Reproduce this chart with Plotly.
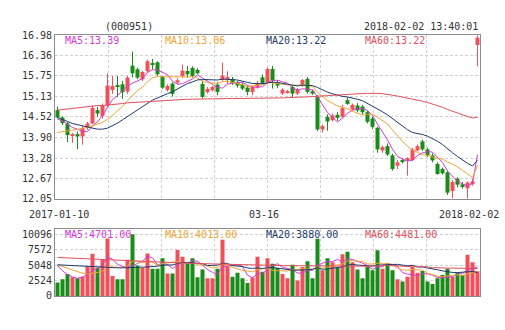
import pandas as pd
import plotly.graph_objects as go

# ---- daily bars, 000951 ----
opens = [14.72, 14.50, 14.32, 13.96, 14.00, 13.93, 14.20, 14.32, 14.72, 14.55,
         14.87, 15.33, 15.45, 15.50, 15.28, 16.06, 15.95, 15.65, 15.90, 16.11,
         16.16, 15.73, 15.33, 15.52, 15.55, 15.75, 15.90, 15.99, 15.93, 15.51,
         15.26, 15.32, 15.49, 15.63, 15.66, 15.66, 15.56, 15.49, 15.40, 15.27,
         15.40, 15.71, 15.56, 15.96, 15.56, 15.22, 15.26, 15.42, 15.22, 15.46,
         15.66, 15.29, 15.12, 14.14, 14.52, 14.42, 14.58, 14.52, 15.02, 14.74,
         14.86, 14.83, 14.66, 14.47, 14.19, 13.51, 13.64, 13.36, 13.05, 13.22,
         13.20, 13.22, 13.51, 13.78, 13.54, 13.36, 13.10, 12.95, 12.85, 12.29,
         12.66, 12.49, 12.37, 12.49, 16.68]
highs = [14.82, 14.54, 14.37, 14.03, 14.08, 14.26, 14.37, 14.86, 14.82, 14.92,
         15.83, 15.75, 15.75, 15.60, 15.75, 16.48, 16.00, 15.90, 16.24, 16.26,
         16.19, 15.75, 15.50, 15.56, 15.68, 16.09, 16.05, 16.04, 15.98, 15.61,
         15.42, 15.45, 15.56, 16.15, 15.89, 15.72, 15.60, 15.55, 15.46, 15.46,
         15.60, 15.80, 16.00, 16.05, 15.62, 15.38, 15.33, 15.47, 15.38, 15.66,
         15.72, 15.33, 15.17, 14.29, 14.60, 14.62, 14.66, 14.88, 15.10, 14.92,
         14.93, 14.88, 14.70, 14.52, 14.22, 13.66, 13.72, 13.41, 13.22, 13.27,
         13.30, 13.59, 13.69, 13.83, 13.59, 13.42, 13.15, 12.99, 12.90, 12.62,
         12.70, 12.56, 12.58, 12.65, 16.97]
lows = [14.47, 14.27, 13.76, 13.74, 13.55, 13.68, 14.13, 14.30, 14.52, 14.47,
        14.82, 15.21, 15.11, 15.06, 15.21, 15.70, 15.65, 15.60, 15.85, 15.95,
        15.75, 15.36, 15.28, 15.13, 15.50, 15.70, 15.70, 15.70, 15.80, 15.07,
        15.22, 15.28, 15.17, 15.61, 15.51, 15.48, 15.40, 15.32, 15.17, 15.17,
        15.37, 15.50, 15.50, 15.37, 15.38, 15.18, 15.22, 15.12, 15.18, 15.42,
        15.22, 15.18, 14.09, 14.05, 14.10, 14.38, 14.40, 14.48, 14.88, 14.70,
        14.66, 14.60, 14.32, 14.15, 13.44, 13.44, 13.34, 12.90, 12.95, 13.12,
        12.75, 13.19, 13.48, 13.50, 13.31, 13.15, 12.78, 12.78, 12.17, 12.07,
        12.40, 12.36, 12.06, 12.45, 16.04]
closes = [14.50, 14.33, 13.97, 13.99, 13.93, 14.18, 14.32, 14.79, 14.62, 14.87,
          15.46, 15.45, 15.42, 15.26, 15.70, 15.83, 15.70, 15.87, 16.19, 16.09,
          15.80, 15.40, 15.45, 15.21, 15.62, 15.91, 15.80, 15.75, 15.83, 15.12,
          15.36, 15.42, 15.27, 15.76, 15.70, 15.53, 15.46, 15.37, 15.27, 15.43,
          15.54, 15.53, 15.96, 15.61, 15.46, 15.34, 15.29, 15.22, 15.34, 15.63,
          15.27, 15.22, 14.14, 14.24, 14.38, 14.56, 14.49, 14.78, 14.91, 14.88,
          14.71, 14.66, 14.37, 14.22, 13.54, 13.61, 13.39, 12.95, 13.15, 13.17,
          13.28, 13.54, 13.64, 13.54, 13.37, 13.21, 12.80, 12.82, 12.24, 12.56,
          12.48, 12.41, 12.54, 12.58, 16.90]
volumes = [2208, 2734, 3575, 3050, 2892, 3155, 4837, 6900, 4627, 5942,
           9400, 3260, 2734, 2734, 5942, 10096, 4995, 4627, 6940, 4469,
           4469, 6152, 3680, 3680, 7519, 6415, 5258, 6152, 3050, 4312,
           2892, 2892, 4469, 9200, 4995, 3155, 3786, 2892, 2103, 3000,
           6415, 3944, 6152, 5258, 4574, 3575, 2892, 5100, 2524, 4732,
           5679, 2892, 9359, 4206, 6152, 5521, 4732, 6835, 7256, 5521,
           4312, 2892, 4837, 4206, 7466, 4469, 5363, 4206, 2734, 2366,
           3155, 4732, 3786, 4101, 2366, 1945, 2892, 3418, 4469, 3155,
           3786, 3418, 6730, 5521, 4050]

# Averages for the first bars, whose windows reach back before this range
price_ma5_head = [14.45, 14.40, 14.30, 14.20]
price_ma10_head = [14.05, 14.08, 14.10, 14.12, 14.14, 14.17, 14.20, 14.25, 14.30]
price_ma20_head = [14.50, 14.45, 14.38, 14.32, 14.28, 14.25, 14.21, 14.18, 14.15, 14.15,
                   14.18, 14.25, 14.33, 14.43, 14.53, 14.63, 14.74, 14.84, 14.93]
price_ma60_head = [14.72, 14.74, 14.76, 14.78, 14.80, 14.81, 14.83, 14.85, 14.86, 14.86,
                   14.87, 14.89, 14.90, 14.92, 14.94, 14.95, 14.97, 14.98, 14.99, 15.00,
                   15.01, 15.01, 15.02, 15.03, 15.03, 15.04, 15.05, 15.05, 15.06, 15.06,
                   15.06, 15.06, 15.07, 15.07, 15.07, 15.07, 15.07, 15.07, 15.08, 15.08,
                   15.08, 15.08, 15.08, 15.09, 15.09, 15.09, 15.10, 15.10, 15.11, 15.11,
                   15.12, 15.13, 15.14, 15.15, 15.16, 15.18, 15.19, 15.19, 15.20]
vol_ma5_head = [5000, 4100, 3500, 3100]
vol_ma10_head = [5100, 4800, 4500, 4200, 3900, 3700, 3600, 3700, 3850]
vol_ma20_head = [5100, 5050, 5000, 4950, 4900, 4850, 4800, 4750, 4700, 4650,
                 4650, 4650, 4600, 4600, 4600, 4650, 4700, 4700, 4750]
vol_ma60_head = [6300, 6260, 6220, 6180, 6140, 6100, 6060, 6020, 5980, 5940,
                 5900, 5860, 5820, 5780, 5740, 5700, 5660, 5620, 5580, 5540,
                 5500, 5475, 5450, 5425, 5400, 5375, 5350, 5325, 5300, 5275,
                 5250, 5225, 5200, 5175, 5150, 5125, 5100, 5075, 5050, 5038,
                 5026, 5014, 5002, 4990, 4978, 4966, 4954, 4942, 4930, 4918,
                 4906, 4894, 4882, 4870, 4858, 4846, 4834, 4822, 4810]

price_ticks = [12.05, 12.67, 13.28, 13.90, 14.52, 15.13, 15.75, 16.36, 16.98]
vol_ticks = [0, 2524, 5048, 7572, 10096]
date_labels = ["2017-01-10", "03-16", "2018-02-02"]
stock_code = "(000951)"
timestamp = "2018-02-02 13:40:01"
price_ma_text = ["MA5:13.39", "MA10:13.06", "MA20:13.22", "MA60:13.22"]
vol_ma_text = ["MA5:4701.00", "MA10:4013.00", "MA20:3880.00", "MA60:4481.00"]

RED = "#f0505a"
GREEN = "#198c19"
MA_COLORS = ["#d838d8", "#eea533", "#1d3c6c", "#e0505c"]
GRID = "#d2d2d2"
FRAME = "#8c8c8c"
TEXT = "#333333"
FONT = "DejaVu Sans Mono"


def rolling_with_head(values, n, head):
    s = pd.Series(values, dtype=float).rolling(n).mean()
    s.iloc[:n - 1] = head
    return s.tolist()


x = list(range(len(closes)))
up = [c >= o for o, c in zip(opens, closes)]
colors = [RED if u else GREEN for u in up]

fig = go.Figure()

# wicks, one trace per colour
for flag, col in ((True, RED), (False, GREEN)):
    wx, wy = [], []
    for i in x:
        if up[i] == flag:
            wx += [i, i, None]
            wy += [lows[i], highs[i], None]
    fig.add_trace(go.Scatter(x=wx, y=wy, mode="lines", line=dict(color=col, width=1),
                             hoverinfo="skip", xaxis="x", yaxis="y"))

# candle bodies
bases = [min(o, c) for o, c in zip(opens, closes)]
heights = [max(abs(c - o), 0.03) for o, c in zip(opens, closes)]
fig.add_trace(go.Bar(x=x, y=heights, base=bases, width=0.8,
                     marker=dict(color=colors, line=dict(width=0)),
                     xaxis="x", yaxis="y"))

# price moving averages
for n, head, col in zip((5, 10, 20, 60),
                        (price_ma5_head, price_ma10_head, price_ma20_head, price_ma60_head),
                        MA_COLORS):
    fig.add_trace(go.Scatter(x=x, y=rolling_with_head(closes, n, head), mode="lines",
                             line=dict(color=col, width=1), xaxis="x", yaxis="y"))

# volume bars
fig.add_trace(go.Bar(x=x, y=volumes, width=0.8,
                     marker=dict(color=colors, line=dict(width=0)),
                     xaxis="x2", yaxis="y2"))

# volume moving averages
for n, head, col in zip((5, 10, 20, 60),
                        (vol_ma5_head, vol_ma10_head, vol_ma20_head, vol_ma60_head),
                        MA_COLORS):
    fig.add_trace(go.Scatter(x=x, y=rolling_with_head(volumes, n, head), mode="lines",
                             line=dict(color=col, width=1), xaxis="x2", yaxis="y2"))

W, H = 505, 330
xdom = [55 / W, 480 / W]
grid_x = [-0.5 + 10.625 * k for k in range(1, 8)]

axis_common = dict(showline=True, mirror=True, linecolor=FRAME, linewidth=1,
                   showgrid=True, gridcolor=GRID, griddash="3px,2px", gridwidth=1,
                   zeroline=False, ticks="", fixedrange=True)

fig.update_layout(
    width=W, height=H, margin=dict(l=0, r=0, t=0, b=0),
    paper_bgcolor="white", plot_bgcolor="white",
    showlegend=False, barmode="overlay",
    font=dict(family=FONT, size=10, color=TEXT),
    xaxis=dict(domain=xdom, range=[-0.5, 84.5], anchor="y", tickvals=grid_x,
               showticklabels=False, **axis_common),
    xaxis2=dict(domain=xdom, range=[-0.5, 84.5], anchor="y2", matches="x",
                tickvals=grid_x, showticklabels=False, **axis_common),
    yaxis=dict(domain=[1 - 200 / H, 1 - 31 / H], range=[12.05, 16.98], anchor="x",
               tickvals=price_ticks, ticktext=[f"{v:.2f}" for v in price_ticks],
               tickfont=dict(family=FONT, size=10, color=TEXT), **axis_common),
    yaxis2=dict(domain=[1 - 300 / H, 1 - 230.5 / H], range=[0, 11042], anchor="x2",
                tickvals=vol_ticks, ticktext=[str(v) for v in vol_ticks],
                tickfont=dict(family=FONT, size=10, color=TEXT), **axis_common),
)


def px_ann(text, xp, yp, anchor="left", color=TEXT):
    fig.add_annotation(text=text, x=xp / W, y=1 - yp / H, xref="paper", yref="paper",
                       xanchor=anchor, yanchor="middle", showarrow=False,
                       font=dict(family=FONT, size=10, color=color), borderpad=0)


px_ann(stock_code, 128.5, 22.5, "center")
px_ann(timestamp, 479, 22.5, "right")
for t, xp, col in zip(price_ma_text, (64, 164, 265, 364), MA_COLORS):
    px_ann(t, xp, 36.7, "left", col)
for t, xp, col in zip(vol_ma_text, (64, 164, 265, 364), MA_COLORS):
    px_ann(t, xp, 236.7, "left", col)
for t, xp in zip(date_labels, (59.3, 264, 469)):
    px_ann(t, xp, 216.5, "center")

fig.write_html("out.html")
